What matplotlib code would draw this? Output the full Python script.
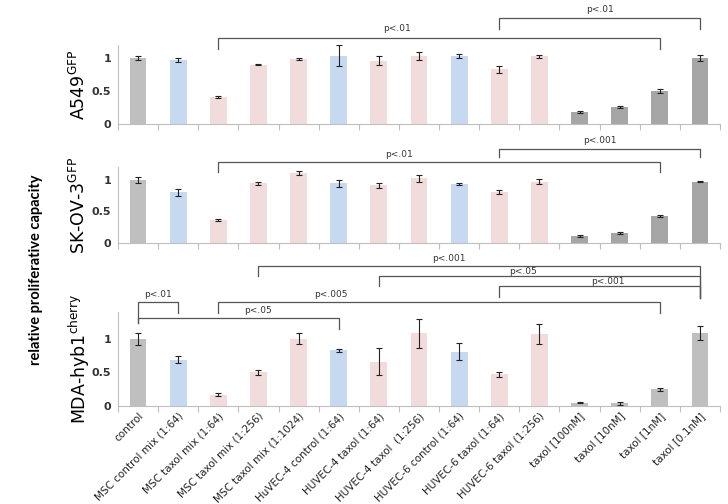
import matplotlib
matplotlib.use("Agg")
import matplotlib.pyplot as plt
import numpy as np

plt.rcParams["font.family"] = ["DejaVu Sans"]
plt.rcParams["mathtext.fontset"] = "dejavusans"

categories = [
    "control", "MSC control mix (1:64)", "MSC taxol mix (1:64)", "MSC taxol mix (1:256)",
    "MSC taxol mix (1:1024)", "HuVEC-4 control (1:64)", "HUVEC-4 taxol (1:64)",
    "HUVEC-4 taxol  (1:256)", "HUVEC-6 control (1:64)", "HUVEC-6 taxol (1:64)",
    "HUVEC-6 taxol (1:256)", "taxol [100nM]", "taxol [10nM]", "taxol [1nM]", "taxol [0.1nM]",
]
groups = ["ctrl", "blue", "pink", "pink", "pink", "blue", "pink", "pink", "blue", "pink", "pink",
          "taxol", "taxol", "taxol", "taxol"]

a549 = [1.00, 0.97, 0.41, 0.90, 0.99, 1.04, 0.96, 1.03, 1.03, 0.83, 1.03, 0.18, 0.26, 0.50, 1.00]
a549_err = [0.03, 0.03, 0.02, 0.01, 0.02, 0.16, 0.07, 0.06, 0.03, 0.05, 0.02, 0.01, 0.01, 0.03, 0.05]

skov3 = [1.00, 0.80, 0.36, 0.94, 1.10, 0.94, 0.91, 1.02, 0.93, 0.81, 0.97, 0.11, 0.16, 0.43, 0.97]
skov3_err = [0.05, 0.06, 0.02, 0.03, 0.03, 0.06, 0.04, 0.05, 0.02, 0.03, 0.04, 0.01, 0.01, 0.02, 0.01]

mda = [1.00, 0.69, 0.17, 0.50, 1.00, 0.83, 0.66, 1.08, 0.81, 0.47, 1.07, 0.05, 0.04, 0.25, 1.09]
mda_err = [0.09, 0.05, 0.02, 0.04, 0.08, 0.02, 0.20, 0.21, 0.13, 0.04, 0.15, 0.01, 0.02, 0.02, 0.10]

# brackets: (left bar, right bar, line y, left drop y, right drop y, label, label x, label y)
a549_brackets = [
    (2, 13, 1.30, 1.14, 1.14, "p<.01", 6.45, 1.45),
    (9, 14, 1.61, 1.44, 1.44, "p<.01", 11.5, 1.74),
]
skov3_brackets = [
    (2, 13, 1.28, 1.12, 1.12, "p<.01", 6.5, 1.40),
    (9, 14, 1.48, 1.36, 1.36, "p<.001", 11.5, 1.62),
]
mda_brackets = [
    (0, 1, 1.55, 1.24, 1.39, "p<.01", 0.5, 1.66),
    (0, 5, 1.31, 1.24, 1.15, "p<.05", 3.0, 1.42),
    (2, 13, 1.55, 1.38, 1.38, "p<.005", 4.8, 1.66),
    (9, 14, 1.78, 1.63, 1.61, "p<.001", 11.7, 1.86),
    (6, 14, 1.93, 1.78, 1.61, "p<.05", 9.6, 2.01),
    (3, 14, 2.09, 1.93, 1.61, "p<.001", 7.75, 2.20),
]

colors_dark = {"ctrl": "#bfbfbf", "blue": "#c6d9f1", "pink": "#f2dcdb", "taxol": "#a6a6a6"}
colors_light = {"ctrl": "#bfbfbf", "blue": "#c6d9f1", "pink": "#f2dcdb", "taxol": "#bfbfbf"}

fig = plt.figure(figsize=(7.28, 5.04), dpi=100)
left, width = 118 / 728, 602 / 728
panels = [
    ("A549$^{\\mathrm{GFP}}$", a549, a549_err, a549_brackets, colors_dark, 1.2,
     (1 - 124 / 504, 79 / 504)),
    ("SK-OV-3$^{\\mathrm{GFP}}$", skov3, skov3_err, skov3_brackets, colors_dark, 1.2,
     (1 - 243 / 504, 76 / 504)),
    ("MDA-hyb1$^{\\mathrm{cherry}}$", mda, mda_err, mda_brackets, colors_light, 1.4,
     (1 - 406 / 504, 94 / 504)),
]

x = np.arange(len(categories))
for k, (name, vals, errs, brackets, cmap, ymax, (bottom, height)) in enumerate(panels):
    ax = fig.add_axes([left, bottom, width, height])
    ax.bar(x, vals, width=0.42, color=[cmap[g] for g in groups], zorder=2)
    ax.errorbar(x, vals, yerr=errs, fmt="none", ecolor="#222222", elinewidth=0.8,
                capsize=2.5, capthick=0.8, zorder=3)
    ax.set_xlim(-0.5, len(categories) - 0.5)
    ax.set_ylim(0, ymax)
    ax.set_yticks([0, 0.5, 1])
    ax.set_yticklabels(["0", "0.5", "1"], fontsize=8, fontweight="bold", color="#333333")
    ax.tick_params(axis="y", length=0, pad=5)
    ax.set_xticks(np.arange(-0.5, len(categories)), minor=True)
    ax.tick_params(axis="x", which="minor", length=4, color="#bfbfbf", width=0.8)
    ax.tick_params(axis="x", which="major", length=0)
    for side in ["top", "right"]:
        ax.spines[side].set_visible(False)
    for side in ["left", "bottom"]:
        ax.spines[side].set_color("#bfbfbf")
        ax.spines[side].set_linewidth(0.8)
    ax.set_xticks(x)
    if k == 2:
        ax.set_xticklabels(categories, rotation=45, ha="right", rotation_mode="anchor",
                           fontsize=7.5, color="#222222")
    else:
        ax.set_xticklabels([])
    fig.text(79 / 728, bottom + height / 2, name, rotation=90, ha="center", va="center",
             fontsize=12.5)

    for (i, j, yl, yd_l, yd_r, lab, lx, ly) in brackets:
        ax.plot([i, i, j, j], [yd_l, yl, yl, yd_r], color="#555555", lw=0.9,
                clip_on=False, zorder=4)
        ax.text(lx, ly, lab, ha="center", va="center", fontsize=6.5, color="#333333",
                clip_on=False)

fig.text(36 / 728, 0.465, "relative proliferative capacity", rotation=90, ha="center",
         va="center", fontsize=10.5, fontweight="bold", family=["Lato", "DejaVu Sans"])

fig.savefig("out.png", dpi=100)
